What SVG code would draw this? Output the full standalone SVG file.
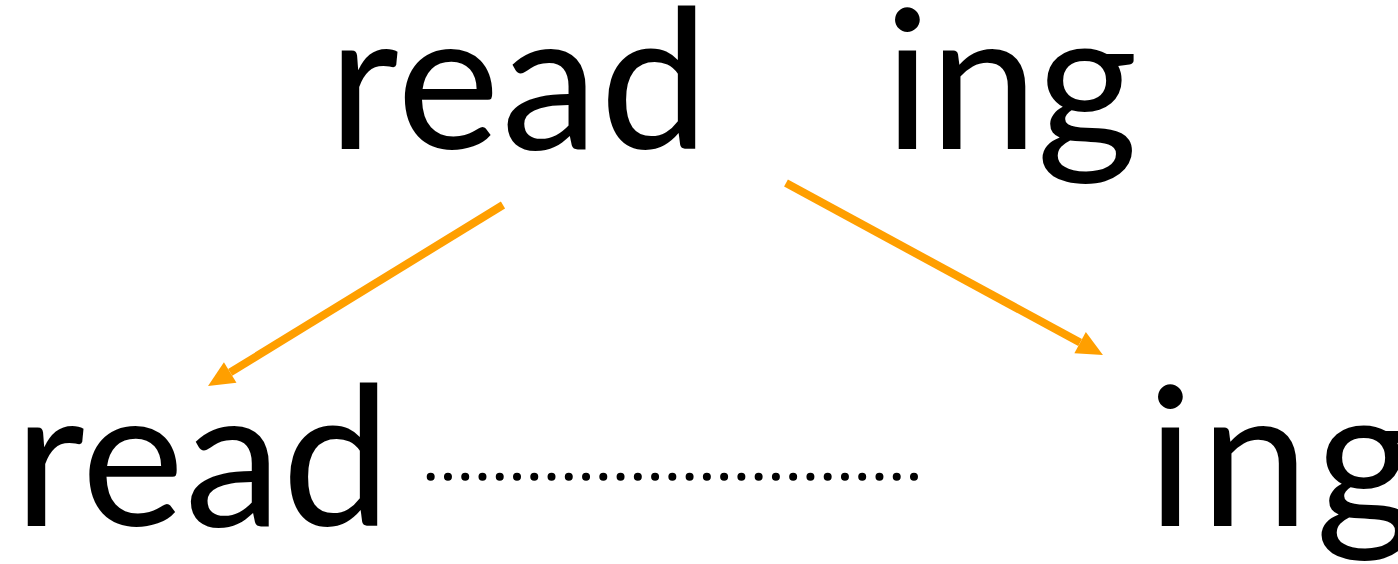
<svg xmlns="http://www.w3.org/2000/svg" width="1398" height="564" viewBox="0 0 1398 564">
  <style>
    .word { font-family: Lato, "Open Sans", sans-serif; font-size: 195px; fill: #000; }
    .arrow { stroke: #FF9F00; stroke-width: 8; fill: none; }
    .dots { stroke: #000; stroke-width: 8; stroke-linecap: round; stroke-dasharray: 0 17.26; fill: none; }
  </style>
  <defs>
    <marker id="head" markerUnits="userSpaceOnUse" viewBox="0 -12 26 24" refX="0" refY="0" markerWidth="26" markerHeight="24" orient="auto" overflow="visible">
      <path d="M0,-12 L26,0 L0,12 z" fill="#FF9F00"/>
    </marker>
  </defs>
  <rect width="1398" height="564" fill="#fff"/>

  <g id="word-reading-stem">
    <text class="word" x="328" y="149" textLength="381" lengthAdjust="spacing">read</text>
  </g>
  <g id="word-reading-suffix">
    <text class="word" x="884" y="149" textLength="254" lengthAdjust="spacing">ing</text>
  </g>
  <g id="word-stem">
    <text class="word" x="14" y="526" textLength="377" lengthAdjust="spacing">read</text>
  </g>
  <g id="word-suffix">
    <text class="word" x="1147" y="526" textLength="270" lengthAdjust="spacing">ing</text>
  </g>

  <g id="connectors">
    <line class="arrow" x1="503" y1="205" x2="230.2" y2="372.4" marker-end="url(#head)"/>
    <line class="arrow" x1="786" y1="183" x2="1080.1" y2="342.6" marker-end="url(#head)"/>
    <line class="dots" x1="430.7" y1="476.7" x2="914.2" y2="476.7"/>
  </g>
</svg>
